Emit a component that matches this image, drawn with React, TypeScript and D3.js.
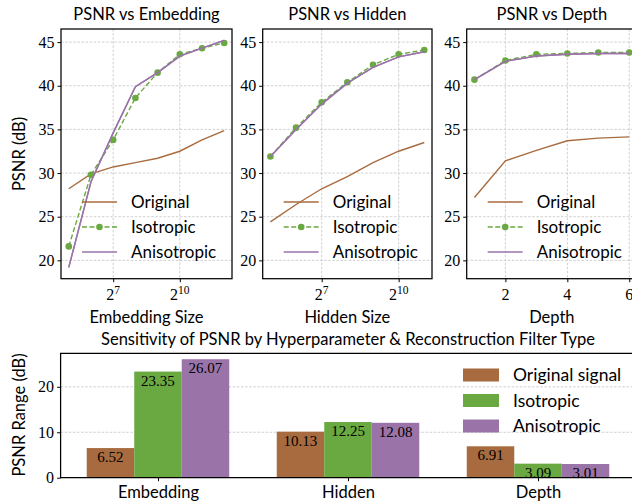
import React, { useEffect, useRef } from 'react';
import * as d3 from 'd3';

// top row: PSNR (dB) against each hyperparameter
const embedSizes = [32, 64, 128, 256, 512, 1024, 2048, 4096];
const embedOriginal = [28.2, 29.9, 30.7, 31.2, 31.7, 32.5, 33.8, 34.85];
const embedIsotropic = [21.6, 29.8, 33.8, 38.6, 41.5, 43.6, 44.3, 44.9];
const embedAnisotropic = [19.2, 29.0, 34.6, 39.9, 41.5, 43.4, 44.3, 45.2];

const hiddenSizes = [32, 64, 128, 256, 512, 1024, 2048];
const hiddenOriginal = [24.4, 26.4, 28.2, 29.6, 31.2, 32.5, 33.5];
const hiddenIsotropic = [31.9, 35.2, 38.1, 40.4, 42.4, 43.6, 44.1];
const hiddenAnisotropic = [31.9, 35.0, 37.9, 40.3, 42.1, 43.3, 43.9];

const depths = [1, 2, 3, 4, 5, 6];
const depthOriginal = [27.2, 31.4, 32.6, 33.7, 34.0, 34.15];
const depthIsotropic = [40.7, 42.9, 43.6, 43.7, 43.8, 43.8];
const depthAnisotropic = [40.7, 42.8, 43.4, 43.6, 43.7, 43.7];

const yTicks = [20, 25, 30, 35, 40, 45];
const logTicks = [128, 1024];
const depthTicks = [2, 4, 6];

// bottom: PSNR range per hyperparameter
const groups = ['Embedding', 'Hidden', 'Depth'];
const rangeOriginal = [6.52, 10.13, 6.91];
const rangeIsotropic = [23.35, 12.25, 3.09];
const rangeAnisotropic = [26.07, 12.08, 3.01];
const rangeTicks = [0, 10, 20];

const seriesNames = ['Original', 'Isotropic', 'Anisotropic'];
const barNames = ['Original signal', 'Isotropic', 'Anisotropic'];
const colors = ['#a86b3f', '#6aa842', '#9a74a8'];

const SANS = 'Lato, "Noto Sans", sans-serif';
const SERIF = '"Liberation Serif", "DejaVu Serif", serif';
const FS = 16.5;

export default function App() {
  const ref = useRef<SVGSVGElement>(null);

  useEffect(() => {
    const svg = d3.select(ref.current);
    svg.selectAll('*').remove();

    const top = 29;
    const bottom = 278.7;
    const allY = [
      ...embedOriginal, ...embedIsotropic, ...embedAnisotropic,
      ...hiddenOriginal, ...hiddenIsotropic, ...hiddenAnisotropic,
      ...depthOriginal, ...depthIsotropic, ...depthAnisotropic,
    ];
    const [ymin, ymax] = d3.extent(allY) as [number, number];
    const pad = (ymax - ymin) * 0.05;
    const y = d3.scaleLinear().domain([ymin - pad, ymax + pad]).range([bottom, top]);

    const panels = [
      { title: 'PSNR vs Embedding', xlabel: 'Embedding Size', xs: embedSizes, s: [embedOriginal, embedIsotropic, embedAnisotropic], log: true, ticks: logTicks, x0: 61, x1: 232 },
      { title: 'PSNR vs Hidden', xlabel: 'Hidden Size', xs: hiddenSizes, s: [hiddenOriginal, hiddenIsotropic, hiddenAnisotropic], log: true, ticks: logTicks, x0: 262.7, x1: 432 },
      { title: 'PSNR vs Depth', xlabel: 'Depth', xs: depths, s: [depthOriginal, depthIsotropic, depthAnisotropic], log: false, ticks: depthTicks, x0: 466.7, x1: 637 },
    ];

    panels.forEach((p, pi) => {
      const g = svg.append('g');
      let x: any;
      if (p.log) {
        const l0 = Math.log2(p.xs[0]);
        const l1 = Math.log2(p.xs[p.xs.length - 1]);
        const m = (l1 - l0) * 0.05;
        x = d3.scaleLog().base(2).domain([2 ** (l0 - m), 2 ** (l1 + m)]).range([p.x0, p.x1]);
      } else {
        const lo = p.xs[0];
        const hi = p.xs[p.xs.length - 1];
        const m = (hi - lo) * 0.05;
        x = d3.scaleLinear().domain([lo - m, hi + m]).range([p.x0, p.x1]);
      }

      // grid
      const grid = g.append('g').attr('stroke', '#c4c4c4').attr('stroke-width', 0.8).attr('stroke-dasharray', '2.5,1.6');
      yTicks.forEach((t) => grid.append('line').attr('x1', p.x0).attr('x2', p.x1).attr('y1', y(t)).attr('y2', y(t)));
      p.ticks.forEach((t) => grid.append('line').attr('x1', x(t)).attr('x2', x(t)).attr('y1', top).attr('y2', bottom));

      // series
      const clipId = `clip${pi}`;
      svg.append('clipPath').attr('id', clipId).append('rect').attr('x', p.x0).attr('y', top).attr('width', p.x1 - p.x0).attr('height', bottom - top);
      const marks = g.append('g').attr('clip-path', `url(#${clipId})`);
      [0, 1, 2].forEach((si) => {
        const pts = p.xs.map((xv, i) => [x(xv), y(p.s[si][i])] as [number, number]);
        marks.append('path')
          .attr('d', d3.line()(pts))
          .attr('fill', 'none')
          .attr('stroke', colors[si])
          .attr('stroke-width', 1.4)
          .attr('stroke-dasharray', si === 1 ? '5,2.5' : null);
        if (si === 1) {
          marks.selectAll(null).data(pts).enter().append('circle')
            .attr('cx', (d) => d[0]).attr('cy', (d) => d[1]).attr('r', 3.3).attr('fill', colors[1]);
        }
      });
      // anisotropic drawn again on top of the markers
      const ptsA = p.xs.map((xv, i) => [x(xv), y(p.s[2][i])] as [number, number]);
      marks.append('path').attr('d', d3.line()(ptsA)).attr('fill', 'none').attr('stroke', colors[2]).attr('stroke-width', 1.4);

      // frame
      g.append('rect').attr('x', p.x0).attr('y', top).attr('width', p.x1 - p.x0).attr('height', bottom - top)
        .attr('fill', 'none').attr('stroke', '#000').attr('stroke-width', 1.25);

      // y axis
      const ya = g.append('g').attr('transform', `translate(${p.x0},0)`)
        .call(d3.axisLeft(y).tickValues(yTicks).tickSize(3.5).tickPadding(3));
      ya.select('.domain').remove();
      ya.selectAll('text').attr('font-family', SERIF).attr('font-size', 16).attr('fill', '#000');
      ya.selectAll('line').attr('stroke-width', 1);

      // x axis
      const xa = g.append('g').attr('transform', `translate(0,${bottom})`)
        .call(d3.axisBottom(x).tickValues(p.ticks).tickSize(3.5).tickPadding(3).tickFormat(() => ''));
      xa.select('.domain').remove();
      xa.selectAll('line').attr('stroke-width', 1);
      p.ticks.forEach((t) => {
        const txt = g.append('text').attr('x', x(t)).attr('y', bottom + 21)
          .attr('text-anchor', 'middle').attr('font-family', SERIF).attr('font-size', 16).attr('fill', '#000');
        if (p.log) {
          txt.append('tspan').text('2');
          txt.append('tspan').attr('dy', -6).attr('font-size', 11.5).text(String(Math.log2(t)));
        } else {
          txt.text(String(t));
        }
      });

      // labels
      g.append('text').attr('x', (p.x0 + p.x1) / 2).attr('y', 20).attr('text-anchor', 'middle')
        .attr('font-family', SANS).attr('font-size', FS).attr('fill', '#000').text(p.title);
      g.append('text').attr('x', (p.x0 + p.x1) / 2).attr('y', 323).attr('text-anchor', 'middle')
        .attr('font-family', SANS).attr('font-size', FS).attr('fill', '#000').text(p.xlabel);

      // legend
      const lg = g.append('g');
      seriesNames.forEach((n, i) => {
        const ly = 202 + i * 25;
        lg.append('line').attr('x1', p.x0 + 21).attr('x2', p.x0 + 56).attr('y1', ly).attr('y2', ly)
          .attr('stroke', colors[i]).attr('stroke-width', 1.4).attr('stroke-dasharray', i === 1 ? '5,2.5' : null);
        if (i === 1) lg.append('circle').attr('cx', p.x0 + 38.5).attr('cy', ly).attr('r', 3.3).attr('fill', colors[1]);
        lg.append('text').attr('x', p.x0 + 70).attr('y', ly).attr('dy', '0.35em')
          .attr('font-family', SANS).attr('font-size', 17).attr('fill', '#000').text(n);
      });
    });

    svg.append('text').attr('transform', `translate(25,154) rotate(-90)`).attr('text-anchor', 'middle')
      .attr('font-family', SANS).attr('font-size', FS).attr('fill', '#000').text('PSNR (dB)');

    // ---- bottom bar chart
    const bTop = 353.3;
    const bBot = 477.7;
    const bw = 0.25;
    const allR = [...rangeOriginal, ...rangeIsotropic, ...rangeAnisotropic];
    const rmax = d3.max(allR) as number;
    const xb = d3.scaleLinear().domain([-1.5 * bw - 2.75 * 0.05, 2 + 1.5 * bw + 2.75 * 0.05]).range([60.6, 635.4]);
    const yb = d3.scaleLinear().domain([0, rmax * 1.05]).range([bBot, bTop]);
    const bg = svg.append('g');

    const bgrid = bg.append('g').attr('stroke', '#c4c4c4').attr('stroke-width', 0.8).attr('stroke-dasharray', '2.5,1.6');
    rangeTicks.slice(1).forEach((t) => bgrid.append('line').attr('x1', xb.range()[0]).attr('x2', xb.range()[1]).attr('y1', yb(t)).attr('y2', yb(t)));

    const rangeSeries = [rangeOriginal, rangeIsotropic, rangeAnisotropic];
    rangeSeries.forEach((vals, si) => {
      vals.forEach((v, gi) => {
        const cx = gi + (si - 1) * bw;
        bg.append('rect').attr('x', xb(cx - bw / 2)).attr('width', xb(cx + bw / 2) - xb(cx - bw / 2))
          .attr('y', yb(v)).attr('height', yb(0) - yb(v)).attr('fill', colors[si]);
        bg.append('text').attr('x', xb(cx)).attr('y', yb(v) + 14).attr('text-anchor', 'middle')
          .attr('font-family', SERIF).attr('font-size', 15).attr('fill', '#000').text(v.toFixed(2));
      });
    });

    bg.append('path').attr('d', `M${xb.range()[0]},${bBot}V${bTop}H${xb.range()[1]}V${bBot}Z`)
      .attr('fill', 'none').attr('stroke', '#000').attr('stroke-width', 1.25);

    const bya = bg.append('g').attr('transform', `translate(${xb.range()[0]},0)`)
      .call(d3.axisLeft(yb).tickValues(rangeTicks).tickSize(3.5).tickPadding(3));
    bya.select('.domain').remove();
    bya.selectAll('text').attr('font-family', SERIF).attr('font-size', 16).attr('fill', '#000');

    const bxa = bg.append('g').attr('transform', `translate(0,${bBot})`)
      .call(d3.axisBottom(xb).tickValues([0, 1, 2]).tickSize(3.5).tickPadding(5).tickFormat((d) => groups[d as number]));
    bxa.select('.domain').remove();
    bxa.selectAll('text').attr('font-family', SANS).attr('font-size', FS).attr('fill', '#000');

    bg.append('text').attr('x', (xb.range()[0] + xb.range()[1]) / 2).attr('y', 345).attr('text-anchor', 'middle')
      .attr('font-family', SANS).attr('font-size', FS).attr('fill', '#000')
      .text('Sensitivity of PSNR by Hyperparameter & Reconstruction Filter Type');

    svg.append('text').attr('transform', `translate(25,415) rotate(-90)`).attr('text-anchor', 'middle')
      .attr('font-family', SANS).attr('font-size', FS).attr('fill', '#000').text('PSNR Range (dB)');

    barNames.forEach((n, i) => {
      const ly = 375 + i * 25.5;
      bg.append('rect').attr('x', 463).attr('y', ly - 6.5).attr('width', 36).attr('height', 13).attr('fill', colors[i]);
      bg.append('text').attr('x', 513).attr('y', ly).attr('dy', '0.35em')
        .attr('font-family', SANS).attr('font-size', 17.5).attr('fill', '#000').text(n);
    });
  }, []);

  return (
    <svg ref={ref} width={632} height={503} style={{ position: 'absolute', left: 0, top: 0, background: '#fff' }} />
  );
}
